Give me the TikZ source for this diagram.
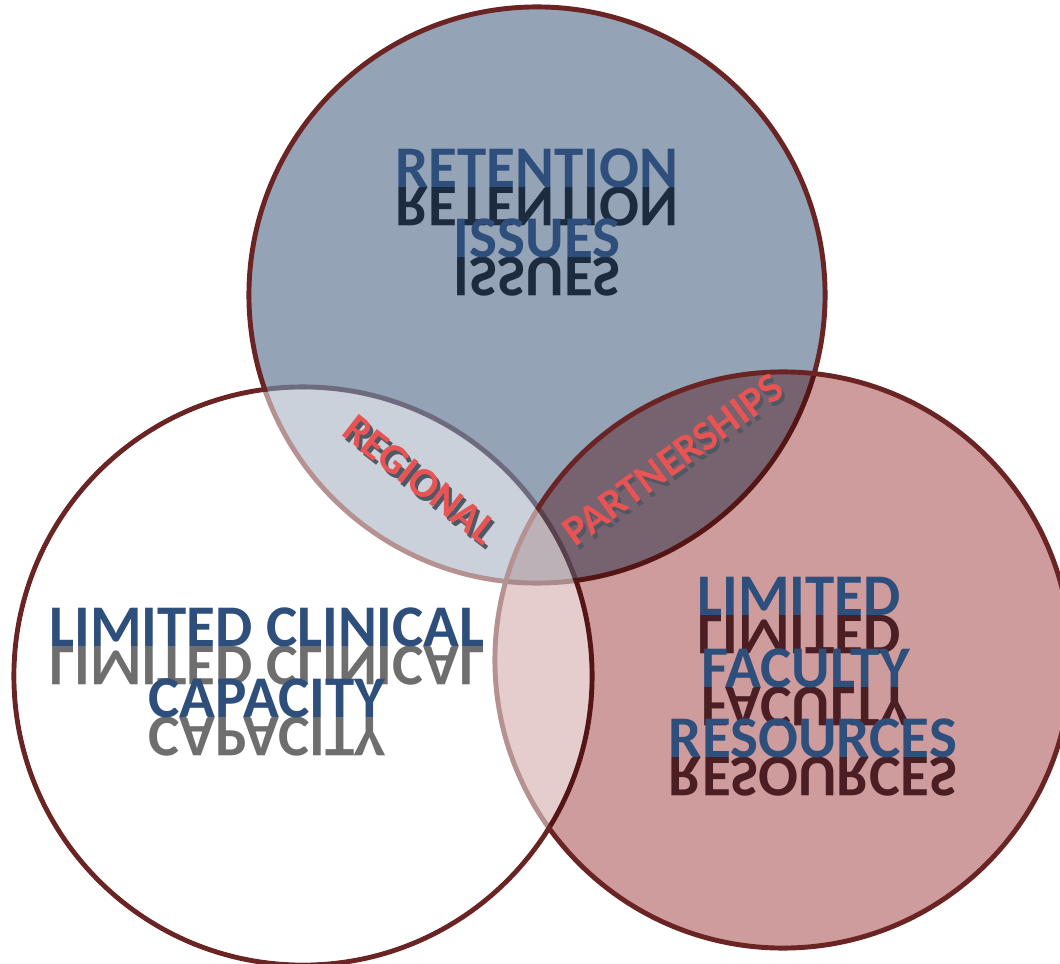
\documentclass[tikz,border=0pt]{standalone}
\usepackage{fontspec}
\setmainfont{Carlito}
\definecolor{ringred}{RGB}{107,36,36}
\definecolor{topblue}{RGB}{112,132,157}
\definecolor{rightrose}{RGB}{189,123,123}
\definecolor{wordblue}{RGB}{46,78,124}
\definecolor{lensred}{RGB}{232,84,84}
\definecolor{shadegray}{RGB}{80,88,100}
\tikzset{
  ring/.style={line width=3.5pt, draw=ringred},
  bigword/.style={font=\fontsize{42}{50}\selectfont\bfseries, text=wordblue, anchor=base, inner sep=0pt},
  mirror/.style={font=\fontsize{42}{50}\selectfont\bfseries, anchor=base, inner sep=0pt},
  lensword/.style={font=\fontsize{30}{36}\selectfont\bfseries, text=lensred, inner sep=0pt},
  lensshade/.style={font=\fontsize{30}{36}\selectfont\bfseries, text=shadegray, inner sep=0pt}
}
\begin{document}
\begin{tikzpicture}[x=0.025cm, y=-0.025cm]
  \path[use as bounding box, clip] (0,0) rectangle (1060,964);
  \coordinate (lc) at (303,676);
  \coordinate (tc) at (537,295);
  \coordinate (rc) at (783,660);
  % circles
  \draw[ring] (lc) circle[radius=7.225cm];
  \fill[topblue, fill opacity=.75] (tc) circle[radius=7.2cm];
  \draw[ring] (tc) circle[radius=7.2cm];
  \begin{scope}[blend mode=multiply]
    \fill[rightrose, fill opacity=.75] (rc) circle[radius=7.2cm];
  \end{scope}
  \draw[ring] (rc) circle[radius=7.2cm];
  \fill[white, fill opacity=.5] (lc) circle[radius=7.16cm];
  % reflections
  \node[mirror, text={rgb,255:red,28;green,43;blue,64}] (retm) at (537,188) {\scalebox{1}[-1]{RETENTION}};
  \node[mirror, text={rgb,255:red,28;green,43;blue,64}] (issm) at (537,258) {\scalebox{1}[-1]{ISSUES}};
  \node[mirror, text={rgb,255:red,110;green,110;blue,110}] (limcm) at (267,646) {\scalebox{1}[-1]{LIMITED CLINICAL}};
  \node[mirror, text={rgb,255:red,110;green,110;blue,110}] (capm) at (267,717) {\scalebox{1}[-1]{CAPACITY}};
  \node[mirror, text={rgb,255:red,74;green,30;blue,34}] (limfm) at (799,615) {\scalebox{1}[-1]{LIMITED}};
  \node[mirror, text={rgb,255:red,74;green,30;blue,34}] (facm) at (806,687) {\scalebox{1}[-1]{FACULTY}};
  \node[mirror, text={rgb,255:red,74;green,30;blue,34}] (resm) at (813,757) {\scalebox{1}[-1]{RESOURCES}};
  % words
  \node[bigword] (ret) at (537,188) {RETENTION};
  \node[bigword] (iss) at (537,258) {ISSUES};
  \node[bigword] (limc) at (267,646) {LIMITED CLINICAL};
  \node[bigword] (cap) at (267,717) {CAPACITY};
  \node[bigword] (limf) at (799,615) {LIMITED};
  \node[bigword] (fac) at (806,687) {FACULTY};
  \node[bigword] (res) at (813,757) {RESOURCES};
  % lens words
  \node[lensshade, rotate=-38] (regs) at (423,484) {REGIONAL};
  \node[lensword, rotate=-38] (reg) at (420,480) {REGIONAL};
  \node[lensshade, rotate=36] (parts) at (676,464) {PARTNERSHIPS};
  \node[lensword, rotate=36] (part) at (673,460) {PARTNERSHIPS};
\end{tikzpicture}
\end{document}
